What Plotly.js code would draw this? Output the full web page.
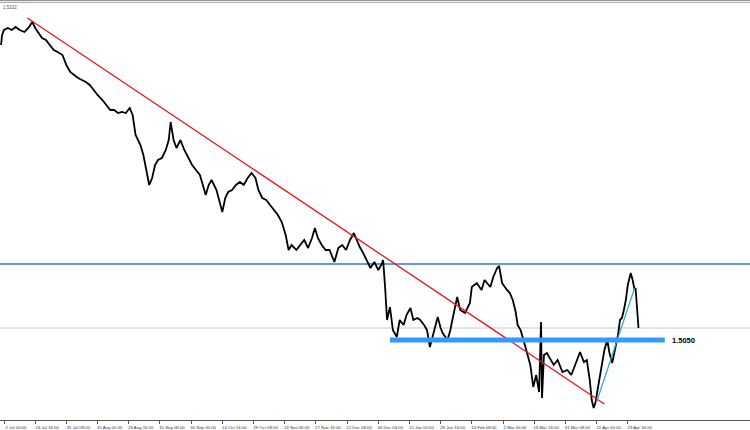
<!DOCTYPE html>
<html>
<head>
<meta charset="utf-8">
<script src="https://cdn.plot.ly/plotly-3.0.1.min.js"></script>
<style>html,body{margin:0;padding:0;background:#fff;}#chart{width:750px;height:430px;}</style>
</head>
<body>
<div id="chart"></div>
<script>
// Bar index (H8 bars, weekends skipped) of each sampled point
const barIndex = [-3,-2,0,4,8,12,16,21,25,29,32,35,39,43,47,51,55,60,64,68,72,76,80,84,88,92,96,101,105,109,113,117,121,125,129,132,135,140,143,146,149,152,155,158,162,166,169,171,174,177,181,185,189,193,197,201,204,207,210,213,218,221,224,227,230,234,238,242,246,250,254,258,261,265,269,273,277,281,285,289,292,295,300,304,308,312,316,319,322,326,330,334,339,343,347,351,355,359,362,365,368,371,376,380,384,387,389,391,393,396,399,403,406,410,413,417,420,424,427,431,434,437,440,443,445,448,450,455,458,460,463,465,468,473,478,480,485,490,493,499,502,506,508,511,516,519,522,525,527,530,533,537,540,543,546,549,551,552,554,557,560,564,568,573,578,582,586,591,595,598,601,603,605,607,609,611,614,616,619,621,624,627,630,632,634,636,638,640,643,645,647,648,649,650,651];
// Price
const price = [1.6820,1.6880,1.6910,1.6922,1.6910,1.6928,1.6910,1.6898,1.6922,1.6958,1.6922,1.6898,1.6862,1.6850,1.6820,1.6790,1.6778,1.6760,1.6700,1.6658,1.6640,1.6622,1.6610,1.6598,1.6580,1.6550,1.6520,1.6490,1.6460,1.6430,1.6430,1.6412,1.6418,1.6412,1.6442,1.6400,1.6280,1.6220,1.6160,1.6070,1.5980,1.6022,1.6100,1.6130,1.6142,1.6190,1.6250,1.6358,1.6250,1.6202,1.6250,1.6190,1.6142,1.6100,1.6070,1.6040,1.5980,1.5920,1.5980,1.6010,1.5950,1.5890,1.5818,1.5902,1.5938,1.5950,1.5980,1.5998,1.5980,1.6022,1.6052,1.6022,1.5950,1.5902,1.5890,1.5860,1.5830,1.5800,1.5758,1.5680,1.5590,1.5620,1.5590,1.5620,1.5650,1.5602,1.5662,1.5722,1.5662,1.5620,1.5590,1.5590,1.5518,1.5602,1.5620,1.5590,1.5650,1.5692,1.5650,1.5608,1.5578,1.5542,1.5482,1.5518,1.5470,1.5500,1.5530,1.5368,1.5170,1.5248,1.5110,1.5068,1.5170,1.5140,1.5200,1.5242,1.5170,1.5182,1.5170,1.5140,1.5110,1.5008,1.5080,1.5158,1.5188,1.5122,1.5092,1.5050,1.5110,1.5170,1.5260,1.5308,1.5230,1.5212,1.5272,1.5368,1.5392,1.5350,1.5410,1.5368,1.5428,1.5482,1.5494,1.5392,1.5350,1.5332,1.5290,1.5218,1.5140,1.5110,1.5050,1.4972,1.4900,1.4768,1.4840,1.4738,1.5158,1.4702,1.4960,1.4972,1.4942,1.4900,1.4930,1.4858,1.4870,1.4840,1.4900,1.4978,1.4918,1.4930,1.4810,1.4690,1.4642,1.4678,1.4750,1.4822,1.4930,1.4990,1.5050,1.4978,1.4912,1.5008,1.5080,1.5170,1.5182,1.5230,1.5290,1.5380,1.5452,1.5410,1.5350,1.5362,1.5260,1.5170,1.5122];

// Tick labels (one every 32 bars)
const tickLabels = ["2 Jul 00:00","16 Jul 16:00","31 Jul 08:00","15 Aug 00:00","29 Aug 16:00","15 Sep 08:00","30 Sep 00:00","14 Oct 16:00","29 Oct 08:00","13 Nov 00:00","27 Nov 16:00","12 Dec 08:00","30 Dec 04:00","15 Jan 00:00","29 Jan 16:00","13 Feb 08:00","2 Mar 00:00","16 Mar 16:00","31 Mar 08:00","15 Apr 00:00","29 Apr 16:00"];
const tickBars = [0,32,64,96,128,160,192,224,256,288,320,352,384,416,448,480,512,544,576,608,640];

// Drawn objects
const trendX = [24, 616];
const trendY = [1.6982, 1.4666];
const cyanX = [608, 647];
const cyanY = [1.4678, 1.5362];
const resistanceLevel = 1.5506;
const bidLevel = 1.5122;
const supportLevel = 1.5050;
const supportX = [396, 678];
const supportLabel = "1.5050";
const topLabel = "1.5102";

const traces = [
  {x: barIndex, y: price, type: 'scatter', mode: 'lines',
   line: {color: '#000000', width: 1.8}, hoverinfo: 'skip'},
  {x: trendX, y: trendY, type: 'scatter', mode: 'lines',
   line: {color: '#E8141E', width: 1.3}, hoverinfo: 'skip'},
  {x: cyanX, y: cyanY, type: 'scatter', mode: 'lines',
   line: {color: '#2AAFC2', width: 1.2}, hoverinfo: 'skip'},
  {x: supportX, y: [supportLevel, supportLevel], type: 'scatter', mode: 'lines',
   line: {color: '#3399FF', width: 5}, hoverinfo: 'skip'}
];

const layout = {
  width: 750, height: 430,
  margin: {l: 0, r: 0, t: 0, b: 10},
  paper_bgcolor: '#ffffff', plot_bgcolor: '#ffffff',
  showlegend: false,
  xaxis: {
    range: [-4.1, 765.4], showgrid: false, zeroline: false,
    showline: true, linecolor: '#555555', linewidth: 1,
    ticks: 'outside', ticklen: 3, tickcolor: '#555555', tickwidth: 1,
    tickmode: 'array', tickvals: tickBars, ticktext: tickLabels,
    tickfont: {family: 'Liberation Sans, Arial, sans-serif', size: 4.3, color: '#333333'},
    ticklabelshift: 12, ticklabelstandoff: 0
  },
  yaxis: {
    range: [1.4570, 1.7090], showgrid: false, zeroline: false,
    showticklabels: false, showline: false, ticks: ''
  },
  shapes: [
    {type: 'line', xref: 'paper', x0: 0, x1: 1, yref: 'y', y0: resistanceLevel, y1: resistanceLevel,
     line: {color: '#2A7FD4', width: 1.3}, layer: 'below'},
    {type: 'line', xref: 'paper', x0: 0, x1: 1, yref: 'y', y0: bidLevel, y1: bidLevel,
     line: {color: '#C8C8C8', width: 1}, layer: 'below'},
    {type: 'line', xref: 'paper', x0: 0, x1: 1, yref: 'paper', y0: 0.9990, y1: 0.9990,
     line: {color: '#8C8C8C', width: 1}},
    {type: 'line', xref: 'paper', x0: 0, x1: 1, yref: 'paper', y0: 0.9945, y1: 0.9945,
     line: {color: '#9A9A9A', width: 1}}
  ],
  annotations: [
    {x: 678, y: supportLevel, xref: 'x', yref: 'y', text: '<b>' + supportLabel + '</b>',
     showarrow: false, xanchor: 'left', yanchor: 'middle', xshift: 5,
     font: {family: 'Liberation Sans, Arial, sans-serif', size: 7.5, color: '#000000'}},
    {x: 0, y: 1, xref: 'paper', yref: 'paper', text: topLabel, showarrow: false,
     xanchor: 'left', yanchor: 'top', xshift: 1, yshift: -3,
     font: {family: 'Liberation Sans, Arial, sans-serif', size: 4.5, color: '#555555'}}
  ]
};

Plotly.newPlot('chart', traces, layout, {staticPlot: true, displayModeBar: false});
</script>
</body>
</html>
